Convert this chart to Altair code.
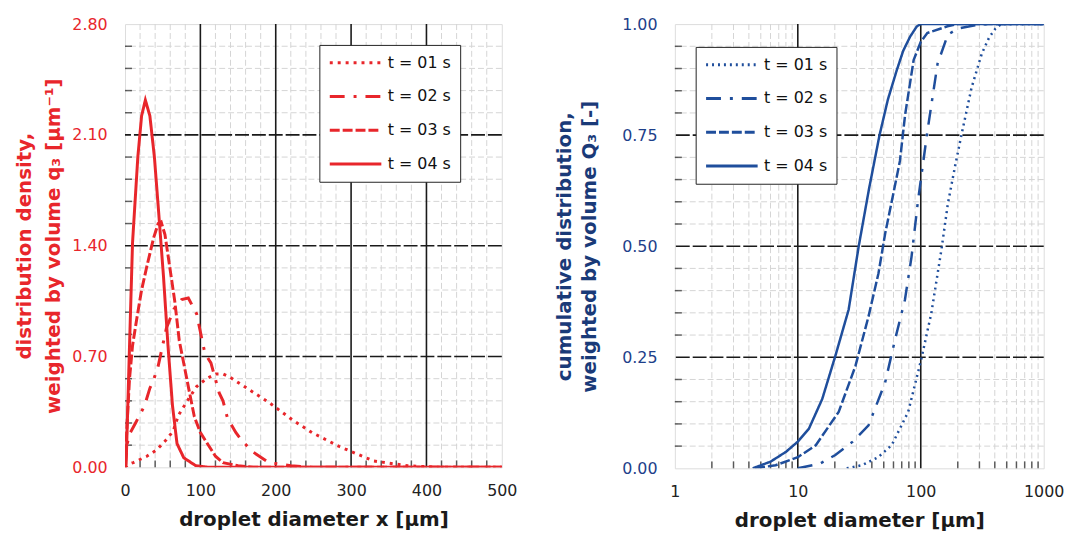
import altair as alt
import pandas as pd

RED = "#e8262b"
BLUE = "#1f4e9c"
series = ["t = 01 s", "t = 02 s", "t = 03 s", "t = 04 s"]

# ---- left panel: distribution density q3 ----
q3_t01_x = [0, 5, 11, 29, 42, 55, 64, 71, 84, 95, 108, 121, 130, 139, 165, 191, 222, 248, 285, 330, 375, 420, 500]
q3_t01_y = [0, 0.02, 0.03, 0.07, 0.11, 0.175, 0.23, 0.33, 0.43, 0.51, 0.56, 0.59, 0.59, 0.57, 0.49, 0.41, 0.30, 0.22, 0.13, 0.04, 0.01, 0, 0]
q3_t02_x = [0, 3, 6, 14, 26, 33, 37, 44, 55, 65, 75, 84, 95, 106, 114, 125, 130, 136, 147, 155, 169, 191, 220, 250, 500]
q3_t02_y = [0, 0.15, 0.21, 0.28, 0.39, 0.50, 0.54, 0.64, 0.88, 1.00, 1.06, 1.07, 0.97, 0.72, 0.66, 0.47, 0.42, 0.31, 0.22, 0.17, 0.10, 0.03, 0.01, 0, 0]
q3_t03_x = [0, 3, 6, 10, 16, 22, 29, 38, 44, 48, 53, 58, 66, 72, 77, 84, 92, 100, 108, 120, 130, 150, 170, 500]
q3_t03_y = [0, 0.30, 0.56, 0.77, 0.95, 1.12, 1.27, 1.45, 1.54, 1.55, 1.47, 1.31, 1.05, 0.80, 0.68, 0.51, 0.32, 0.22, 0.16, 0.07, 0.03, 0.01, 0, 0]
q3_t04_x = [0, 1.5, 6, 10, 17, 22, 27, 33, 39, 45, 51, 57, 63, 69, 78, 94, 112, 500]
q3_t04_y = [0, 0.02, 0.77, 1.42, 1.96, 2.22, 2.32, 2.22, 1.96, 1.59, 1.21, 0.77, 0.39, 0.15, 0.06, 0.01, 0, 0]

# ---- right panel: cumulative distribution Q3 ----
Q3_t01_x = [25, 33.2, 45, 58, 79, 101, 122, 147, 166, 190, 214, 259, 314, 360, 405, 450, 1000]
Q3_t01_y = [0, 0.007, 0.025, 0.052, 0.127, 0.246, 0.35, 0.491, 0.595, 0.68, 0.75, 0.857, 0.934, 0.97, 0.99, 1.0, 1.0]
Q3_t02_x = [10, 15, 20.2, 28, 37.6, 51.3, 61.8, 74.3, 84.1, 95, 113, 137, 166, 200, 270, 350, 1000]
Q3_t02_y = [0, 0.01, 0.03, 0.06, 0.097, 0.193, 0.29, 0.379, 0.476, 0.603, 0.757, 0.911, 0.976, 0.99, 0.997, 1.0, 1.0]
Q3_t03_x = [4.5, 6.6, 10, 14, 21.5, 29.4, 37.6, 45.3, 51.3, 60, 67.7, 74.6, 87.5, 100, 113, 165, 200, 1000]
Q3_t03_y = [0, 0.007, 0.025, 0.052, 0.127, 0.23, 0.342, 0.439, 0.528, 0.62, 0.692, 0.796, 0.919, 0.96, 0.98, 0.995, 1.0, 1.0]
Q3_t04_x = [4.3, 6, 8, 10, 12.3, 15.8, 20.2, 25.9, 31.2, 38, 46.2, 54, 63.6, 72, 82, 93, 100, 1000]
Q3_t04_y = [0, 0.015, 0.037, 0.06, 0.089, 0.156, 0.253, 0.357, 0.498, 0.63, 0.75, 0.83, 0.895, 0.94, 0.972, 0.995, 1.0, 1.0]

# ticks / grid
left_x_major = [100, 200, 300, 400]
left_x_minor = [20, 40, 60, 80, 120, 140, 160, 180, 220, 240, 260, 280, 320, 340, 360, 380, 420, 440, 460, 480]
left_x_labels = [0, 100, 200, 300, 400, 500]
left_y_major = [0.7, 1.4, 2.1]
left_y_minor = [0.14, 0.28, 0.42, 0.56, 0.84, 0.98, 1.12, 1.26, 1.54, 1.68, 1.82, 1.96, 2.24, 2.38, 2.52, 2.66]
left_y_labels = [0, 0.7, 1.4, 2.1, 2.8]
right_x_major = [10, 100]
right_x_minor = [2, 3, 4, 5, 6, 7, 8, 9, 20, 30, 40, 50, 60, 70, 80, 90, 200, 300, 400, 500, 600, 700, 800, 900]
right_x_labels = [1, 10, 100, 1000]
right_y_major = [0.25, 0.5, 0.75]
right_y_minor = [0.05, 0.1, 0.15, 0.2, 0.3, 0.35, 0.4, 0.45, 0.55, 0.6, 0.65, 0.7, 0.8, 0.85, 0.9, 0.95]
right_y_labels = [0, 0.25, 0.5, 0.75, 1.0]

FONT = "DejaVu Sans"


def long_df(pairs):
    rows = []
    for name, xs, ys in pairs:
        for i, (a, b) in enumerate(zip(xs, ys)):
            rows.append({"series": name, "x": a, "y": b, "i": i})
    return pd.DataFrame(rows)


def panel(df, xscale, yscale, xlabels, ylabels, xmaj, xmin, ymaj, ymin, color, labcolor, titlecolor,
          xtitle, ytitle, ylh, ytp, xfmt, lx, ly, w, h, sw, dashes):
    X = lambda: alt.X("x:Q", scale=xscale)
    Y = lambda: alt.Y("y:Q", scale=yscale)
    gx_min = alt.Chart(pd.DataFrame({"x": xmin})).mark_rule(color="#d4d4d4", strokeWidth=1, strokeDash=[6, 3]).encode(x=X())
    gy_min = alt.Chart(pd.DataFrame({"y": ymin})).mark_rule(color="#d4d4d4", strokeWidth=1, strokeDash=[6, 3]).encode(y=Y())
    gx_maj = alt.Chart(pd.DataFrame({"x": xmaj})).mark_rule(color="#1a1a1a", strokeWidth=1.6).encode(x=X())
    gy_maj = alt.Chart(pd.DataFrame({"y": ymaj})).mark_rule(color="#1a1a1a", strokeWidth=1.6, strokeDash=[14, 3]).encode(y=Y())
    tx = alt.Chart(pd.DataFrame({"x": xmin})).mark_tick(color="#222", size=7, thickness=1.5, orient="vertical").encode(x=X(), y=alt.value(h - 3.5))
    ty = alt.Chart(pd.DataFrame({"y": ymin})).mark_tick(color="#222", size=7, thickness=1.5, orient="horizontal").encode(y=Y(), x=alt.value(3.5))
    lines = alt.Chart(df).mark_line(color=color, strokeWidth=sw, clip=True).encode(
        x=alt.X("x:Q", scale=xscale, axis=alt.Axis(
            values=xlabels, format=xfmt, grid=False, ticks=False, domain=False, labelFlush=False,
            labelFont=FONT, labelFontSize=16, labelColor="#222", labelPadding=15,
            title=xtitle, titleFont=FONT, titleFontSize=20, titleFontWeight="bold",
            titleColor="#1a1a1a", titlePadding=12)),
        y=alt.Y("y:Q", scale=yscale, axis=alt.Axis(
            values=ylabels, format=".2f", grid=False, ticks=False, domain=False, labelFlush=False,
            labelFont=FONT, labelFontSize=16, labelColor=labcolor, labelPadding=18,
            title=ytitle, titleFont=FONT, titleFontSize=20, titleFontWeight="bold",
            titleColor=titlecolor, titleLineHeight=ylh, titlePadding=ytp)),
        strokeDash=alt.StrokeDash("series:N", scale=alt.Scale(domain=series, range=dashes),
                                  legend=alt.Legend(
                                      title=None, orient="none", legendX=lx, legendY=ly,
                                      symbolType="stroke", symbolSize=2704, symbolStrokeWidth=3,
                                      symbolStrokeColor=color, labelFont=FONT, labelFontSize=16,
                                      labelColor="#111", labelOffset=5, rowPadding=16, clipHeight=18,
                                      padding=9, fillColor="white", strokeColor="#222")),
        order="i:Q",
    )
    return alt.layer(gx_min, gy_min, gx_maj, gy_maj, tx, ty, lines).properties(width=w, height=h)


left_df = long_df([(series[0], q3_t01_x, q3_t01_y), (series[1], q3_t02_x, q3_t02_y),
                   (series[2], q3_t03_x, q3_t03_y), (series[3], q3_t04_x, q3_t04_y)])
right_df = long_df([(series[0], Q3_t01_x, Q3_t01_y), (series[1], Q3_t02_x, Q3_t02_y),
                    (series[2], Q3_t03_x, Q3_t03_y), (series[3], Q3_t04_x, Q3_t04_y)])

left = panel(left_df, alt.Scale(domain=[0, 500], nice=False, padding=0), alt.Scale(domain=[0, 2.8], nice=False, padding=0),
             left_x_labels, left_y_labels, left_x_major, left_x_minor, left_y_major, left_y_minor,
             RED, RED, RED, "droplet diameter x [µm]",
             ["distribution density,", "weighted by volume q₃ [µm⁻¹]"], 30, 8, "d",
             196, 21, 380, 447, 3, [[3, 5], [15, 9, 3, 9], [10, 3], [1, 0]])

right = panel(right_df, alt.Scale(type="log", domain=[1, 1000], nice=False, padding=0), alt.Scale(domain=[0, 1], nice=False, padding=0),
              right_x_labels, right_y_labels, right_x_major, right_x_minor, right_y_major, right_y_minor,
              BLUE, "#1e3f8a", "#1a3a78", "droplet diameter [µm]",
              ["cumulative distribution,", "weighted by volume Q₃ [-]"], 26, 22, "d",
              21, 23, 372, 448, 2.5, [[2, 4], [15, 9, 3, 9], [10, 3], [1, 0]])

chart = alt.hconcat(left, right, spacing=35.5).resolve_scale(strokeDash="independent").properties(
    padding={"left": 5, "top": 5, "right": 5, "bottom": 0}
).configure_view(stroke="#111", strokeWidth=2).configure(background="white")

chart.save("out.html", embed_options={"renderer": "svg", "actions": False})
